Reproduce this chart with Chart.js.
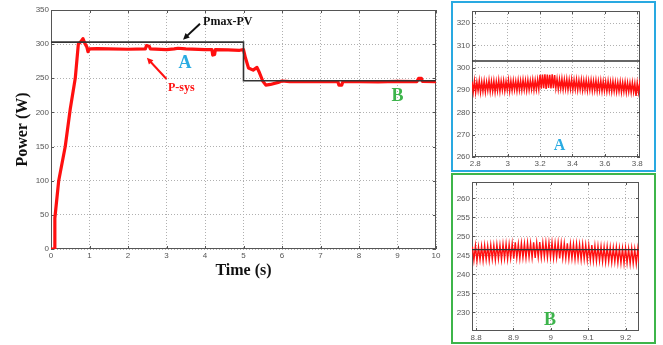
<!DOCTYPE html>
<html>
<head>
<meta charset="utf-8">
<script src="https://cdn.jsdelivr.net/npm/chart.js@4.4.1/dist/chart.umd.min.js"></script>
<style>
  html, body { margin: 0; padding: 0; background: #fff; }
  body { width: 663px; height: 345px; position: relative; overflow: hidden; }
  .abs { position: absolute; }
  #frameA { left: 451px; top: 1px; width: 201px; height: 167px; border: 2px solid #29a9e1; }
  #frameB { left: 451px; top: 173px; width: 201px; height: 167px; border: 2px solid #3db54a; }
  #cMain { left: 0; top: 0; }
  #cA { left: 452px; top: 2px; }
  #cB { left: 452px; top: 174px; }
</style>
</head>
<body>
<div id="frameA" class="abs"></div>
<div id="frameB" class="abs"></div>
<canvas id="cMain" class="abs" width="450" height="300"></canvas>
<canvas id="cA" class="abs" width="204" height="170"></canvas>
<canvas id="cB" class="abs" width="204" height="170"></canvas>
<script>
// ---- Main plot data ----
const timeTicks = [0, 1, 2, 3, 4, 5, 6, 7, 8, 9, 10];
const powerTicks = [0, 50, 100, 150, 200, 250, 300, 350];

const pmaxTime = [0, 5, 5, 10];
const pmaxPower = [303, 303, 246.5, 246.5];

const psysTime = [0, 0.1, 0.1, 0.2, 0.37, 0.5, 0.63, 0.71, 0.78, 0.83, 0.88, 0.93, 0.96, 1.0,
  1.2, 1.5, 2.0, 2.45, 2.48, 2.55, 2.58, 3.0, 3.2, 3.3, 3.5, 4.0, 4.18, 4.2, 4.25, 4.27,
  4.6, 4.9, 5.0, 5.05, 5.13, 5.25, 5.35, 5.4, 5.5, 5.58, 5.7, 5.9, 6.0, 6.2, 6.5, 7.0,
  7.45, 7.48, 7.55, 7.58, 8.0, 8.5, 9.0, 9.5, 9.55, 9.62, 9.65, 10];
const psysPower = [0, 0, 45, 100, 150, 205, 250, 300, 304, 308, 301, 296, 289, 293,
  293.5, 293, 292.5, 293, 298, 297, 293, 292, 293, 294, 293, 292, 292, 284, 285, 292,
  291.5, 291, 292, 280, 265, 262, 266, 260, 246, 240, 241, 244, 246, 245, 245, 245,
  245, 240, 240, 245, 245, 244.8, 245.5, 245, 250, 250, 245.5, 245];

// ---- Zoom A (2.78 s .. 3.82 s) ----
const zoomATicksX = [2.8, 3, 3.2, 3.4, 3.6, 3.8];
const zoomATicksY = [260, 270, 280, 290, 300, 310, 320];
const zoomAStart = 2.78;
const zoomAStep = 0.0075;
const zoomAPmax = 303;
const zoomAPower = [
  293.8, 289.2, 294.1, 288.9, 293.5, 289.6, 294.2, 289.0, 293.7, 289.4,
  294.0, 289.1, 293.6, 289.8, 294.3, 289.3, 293.9, 289.5, 294.1, 289.2,
  293.8, 289.7, 294.4, 289.4, 294.0, 289.9, 294.2, 289.6, 293.9, 290.0,
  294.5, 289.5, 294.1, 289.8, 294.3, 290.1, 294.0, 289.7, 294.4, 290.0,
  294.2, 289.9, 294.6, 290.2, 294.3, 289.8, 294.5, 290.1, 294.2, 290.3,
  294.6, 290.0, 294.4, 290.2, 294.7, 290.4,
  296.8, 290.6, 296.9, 290.8, 297.0, 290.5, 296.9, 290.9, 296.8, 290.7, 297.0, 290.8, 296.7, 290.9,
  295.0, 290.4, 294.8, 290.6, 295.1, 290.3, 294.7, 290.5, 294.9, 290.2,
  294.6, 290.4, 294.8, 290.1, 294.5, 290.3, 294.7, 290.0, 294.4, 290.2,
  294.6, 289.9, 294.3, 290.1, 294.5, 289.8, 294.2, 290.0, 294.4, 289.7,
  294.1, 289.9, 294.3, 289.6, 294.0, 289.8, 294.2, 289.5, 293.9, 289.7,
  293.8, 289.4, 294.0, 289.6, 293.7, 289.3, 293.9, 289.5, 293.6, 289.2,
  293.5, 289.4, 293.7, 289.1, 293.4, 289.3, 293.6, 289.0, 293.3, 289.2,
  293.2, 288.9, 293.4, 289.1, 293.0, 287.4, 293.2, 289.0, 292.9, 289.2
];

// ---- Zoom B (8.79 s .. 9.24 s) ----
const zoomBTicksX = [8.8, 8.9, 9, 9.1, 9.2];
const zoomBTicksY = [230, 235, 240, 245, 250, 255, 260];
const zoomBStart = 8.79;
const zoomBStep = 0.0041;
const zoomBPmax = 246.5;
const zoomBPower = [
  247.3, 243.7, 247.5, 243.5, 247.2, 243.8, 247.4, 243.6, 247.6, 243.9,
  247.5, 243.7, 247.7, 244.0, 247.6, 243.8, 247.8, 244.1, 247.7, 243.9,
  247.9, 244.2, 248.0, 244.0, 247.9, 244.3, 248.1, 244.1, 248.4, 244.3,
  248.0, 244.2, 248.2, 244.4, 248.1, 244.3, 248.3, 244.5, 248.2, 244.4,
  248.4, 244.3, 248.3, 244.5, 248.5, 244.4, 248.3, 244.6, 248.4, 244.4,
  248.3, 244.5, 248.4, 244.3, 248.2, 244.4, 248.3, 244.2, 248.2, 244.3,
  248.1, 244.2, 248.2, 244.1, 248.0, 244.2, 247.9, 244.0, 248.0, 244.1,
  247.8, 243.9, 247.9, 244.0, 247.7, 243.8, 247.6, 243.7, 247.7, 243.6,
  247.5, 243.5, 247.4, 243.6, 247.3, 243.4, 247.2, 243.3, 247.3, 243.4,
  247.1, 243.2, 247.0, 243.3, 247.1, 243.1, 246.9, 243.0, 246.8, 242.9,
  246.9, 243.0, 246.7, 242.8, 246.8, 242.9, 246.6, 242.8, 246.7, 242.9
];

const RED = "#ff1010";
const DARK = "#333";
const BLUE = "#29abe2";
const GREEN = "#3cb44b";
const TICK_FONT = { family: "'Liberation Sans', Arial, sans-serif", size: 8 };
const SERIF = "'Liberation Serif', 'Times New Roman', serif";

const fmt = (v) => String(Number(v.toFixed(2)));

// frame box + inner tick marks (matlab look)
const matlabFrame = {
    id: "matlabFrame",
    beforeDatasetsDraw(chart) {
        const { ctx, chartArea: a, scales } = chart;
        ctx.save();
        ctx.strokeStyle = "#555";
        ctx.lineWidth = 1;
        ctx.strokeRect(a.left + 0.5, a.top + 0.5, a.right - a.left - 1, a.bottom - a.top - 1);
        ctx.beginPath();
        scales.x.ticks.forEach((t) => {
            const px = Math.round(scales.x.getPixelForValue(t.value)) + 0.5;
            ctx.moveTo(px, a.bottom); ctx.lineTo(px, a.bottom - 3);
            ctx.moveTo(px, a.top); ctx.lineTo(px, a.top + 3);
        });
        scales.y.ticks.forEach((t) => {
            const py = Math.round(scales.y.getPixelForValue(t.value)) + 0.5;
            ctx.moveTo(a.left, py); ctx.lineTo(a.left + 3, py);
            ctx.moveTo(a.right, py); ctx.lineTo(a.right - 3, py);
        });
        ctx.stroke();
        ctx.restore();
    },
};

function arrow(ctx, x1, y1, x2, y2, color) {
    const ang = Math.atan2(y2 - y1, x2 - x1);
    const h = 7;
    ctx.strokeStyle = color;
    ctx.fillStyle = color;
    ctx.lineWidth = 2;
    ctx.beginPath();
    ctx.moveTo(x1, y1);
    ctx.lineTo(x2 - Math.cos(ang) * 4, y2 - Math.sin(ang) * 4);
    ctx.stroke();
    ctx.beginPath();
    ctx.moveTo(x2, y2);
    ctx.lineTo(x2 - h * Math.cos(ang - 0.45), y2 - h * Math.sin(ang - 0.45));
    ctx.lineTo(x2 - h * Math.cos(ang + 0.45), y2 - h * Math.sin(ang + 0.45));
    ctx.closePath();
    ctx.fill();
}

// labels written in data units
function labelsPlugin(items, arrows) {
    return {
        id: "labels",
        afterDatasetsDraw(chart) {
            const { ctx, scales: { x, y } } = chart;
            ctx.save();
            (arrows || []).forEach((a) => {
                arrow(ctx, x.getPixelForValue(a.from[0]), y.getPixelForValue(a.from[1]),
                    x.getPixelForValue(a.to[0]), y.getPixelForValue(a.to[1]), a.color);
            });
            items.forEach((it) => {
                ctx.font = "bold " + it.size + "px " + SERIF;
                ctx.fillStyle = it.color;
                ctx.textAlign = it.align || "center";
                ctx.textBaseline = "middle";
                ctx.fillText(it.text, x.getPixelForValue(it.at[0]), y.getPixelForValue(it.at[1]));
            });
            ctx.restore();
        },
    };
}

function axis(min, max, ticks, fixed, extra) {
    return Object.assign({
        type: "linear",
        min, max,
        afterBuildTicks: (s) => { s.ticks = ticks.map((v) => ({ value: v })); },
        afterFit: (s) => { if (s.isHorizontal()) s.height = fixed; else s.width = fixed; },
        grid: { color: "#b0b0b0", lineWidth: 1, drawTicks: false },
        border: { display: false, dash: [1, 2] },
        ticks: { font: TICK_FONT, color: "#555", padding: 2, autoSkip: false, maxRotation: 0, callback: fmt },
    }, extra || {});
}

function pts(xs, ys) {
    return xs.map((t, i) => ({ x: t, y: ys[i] }));
}

function gridPts(start, step, ys) {
    return ys.map((v, i) => ({ x: start + i * step, y: v }));
}

// ---- Main chart ----
new Chart(document.getElementById("cMain"), {
    type: "line",
    data: {
        datasets: [
            { data: pts(pmaxTime, pmaxPower), borderColor: DARK, borderWidth: 1.6, pointRadius: 0 },
            { data: pts(psysTime, psysPower), borderColor: RED, borderWidth: 3.2, pointRadius: 0, borderJoinStyle: "round" },
        ],
    },
    options: {
        responsive: false,
        animation: false,
        layout: { padding: { left: 0, top: 10, right: 14, bottom: 0 } },
        plugins: { legend: { display: false }, tooltip: { enabled: false } },
        scales: {
            x: axis(0, 10, timeTicks, 51, {
                title: { display: true, text: "Time (s)", color: "#111", padding: { top: 0, bottom: 20 },
                    font: { family: SERIF, size: 16, weight: "bold" } },
            }),
            y: axis(0, 350, powerTicks, 51, {
                title: { display: true, text: "Power (W)", color: "#111", padding: { top: 13, bottom: 0 },
                    font: { family: SERIF, size: 16, weight: "bold" } },
            }),
        },
    },
    plugins: [matlabFrame, labelsPlugin([
        { text: "Pmax-PV", at: [3.95, 333], size: 12, color: "#111", align: "left" },
        { text: "P-sys", at: [3.04, 236], size: 12, color: RED, align: "left" },
        { text: "A", at: [3.48, 272], size: 18, color: BLUE },
        { text: "B", at: [9.0, 223.5], size: 18, color: GREEN },
    ], [
        { from: [3.87, 330], to: [3.43, 306.6], color: "#111" },
        { from: [3.0, 249], to: [2.49, 280], color: RED },
    ])],
});

// ---- Zoom A ----
new Chart(document.getElementById("cA"), {
    type: "line",
    data: {
        datasets: [
            { data: [{ x: 2.7, y: zoomAPmax }, { x: 3.9, y: zoomAPmax }], borderColor: DARK, borderWidth: 1.4, pointRadius: 0 },
            { data: gridPts(zoomAStart, zoomAStep, zoomAPower), borderColor: RED, borderWidth: 1.5, pointRadius: 0 },
        ],
    },
    options: {
        responsive: false,
        animation: false,
        layout: { padding: { left: 0, top: 9, right: 16, bottom: 0 } },
        plugins: { legend: { display: false }, tooltip: { enabled: false } },
        scales: {
            x: axis(2.78, 3.817, zoomATicksX, 15),
            y: axis(260, 325.4, zoomATicksY, 20),
        },
    },
    plugins: [matlabFrame, labelsPlugin([{ text: "A", at: [3.32, 265], size: 16, color: BLUE }])],
});

// ---- Zoom B ----
new Chart(document.getElementById("cB"), {
    type: "line",
    data: {
        datasets: [
            { data: [{ x: 8.7, y: zoomBPmax }, { x: 9.3, y: zoomBPmax }], borderColor: DARK, borderWidth: 1.4, pointRadius: 0 },
            { data: gridPts(zoomBStart, zoomBStep, zoomBPower), borderColor: RED, borderWidth: 1.4, pointRadius: 0 },
        ],
    },
    options: {
        responsive: false,
        animation: false,
        layout: { padding: { left: 0, top: 8, right: 17, bottom: 0 } },
        plugins: { legend: { display: false }, tooltip: { enabled: false } },
        scales: {
            x: axis(8.789, 9.236, zoomBTicksX, 13),
            y: axis(225.1, 264.3, zoomBTicksY, 20),
        },
    },
    plugins: [matlabFrame, labelsPlugin([{ text: "B", at: [8.998, 227.8], size: 18, color: GREEN }])],
});
</script>
</body>
</html>
